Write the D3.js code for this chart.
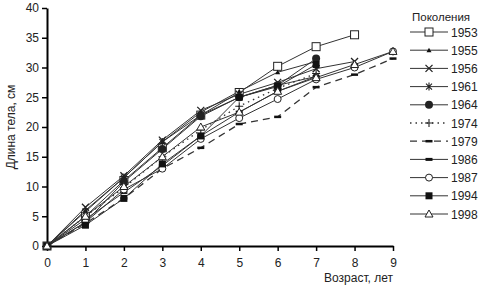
<!DOCTYPE html>
<html>
<head>
<meta charset="utf-8">
<script src="https://cdn.jsdelivr.net/npm/d3@7"></script>
<style>
  body { margin: 0; background: #fff; }
  text { font-family: "Liberation Sans", Arial, sans-serif; fill: #222; }
</style>
</head>
<body>
<div id="chart"></div>
<script>
// ages (x axis) and tick labels
const ages = [0, 1, 2, 3, 4, 5, 6, 7, 8, 9];
const yTicks = [0, 5, 10, 15, 20, 25, 30, 35, 40];

// body length by generation
const gen1953 = [0, 5, 11, 16.5, 22, 25.8, 30.2, 33.5, 35.5];
const gen1955 = [0, 6, 11.5, 17.5, 22.5, 26, 29.2, 31];
const gen1956 = [0, 6.5, 11.8, 17.8, 22.8, 25.5, 27.5, 29.8, 31];
const gen1961 = [0, 5.8, 11.5, 17.5, 22, 25, 27, 28.5];
const gen1964 = [0, 4, 10.8, 16.3, 21.8, 25, 27, 31.5];
const gen1974 = [0, 5, 9.8, 15, 19.5, 23.5, 26.5, 29];
const gen1979 = [0, 3.8, 8, 13, 16.5, 20.5, 21.7, 26.7, 28.8, 31.5];
const gen1986 = [0, 4.5, 9, 13.5, 18.5, 22.5, 26, 28.5];
const gen1987 = [0, 4, 9.5, 13, 18, 21.5, 24.7, 28, 30, 32.7];
const gen1994 = [0, 3.5, 8, 13.8, 18.5, 25, 26.8, 30.5];
const gen1998 = [0, 5, 10, 15, 20, 22.5, 26, 28.3, 30.5, 32.7];

const series = [
  {name: "1953", values: gen1953, marker: "square", dash: null},
  {name: "1955", values: gen1955, marker: "smalltri", dash: null},
  {name: "1956", values: gen1956, marker: "cross", dash: null},
  {name: "1961", values: gen1961, marker: "star", dash: null},
  {name: "1964", values: gen1964, marker: "dot", dash: null},
  {name: "1974", values: gen1974, marker: "plus", dash: "1.5,4"},
  {name: "1979", values: gen1979, marker: "dash", dash: "7,5"},
  {name: "1986", values: gen1986, marker: "bar", dash: null},
  {name: "1987", values: gen1987, marker: "circle", dash: null},
  {name: "1994", values: gen1994, marker: "fsquare", dash: null},
  {name: "1998", values: gen1998, marker: "triangle", dash: null}
];

const margin = {top: 8, right: 90, bottom: 41, left: 47},
    width = 483 - margin.left - margin.right,
    height = 287 - margin.top - margin.bottom;

const svg = d3.select("#chart")
  .append("svg")
  .attr("width", 483)
  .attr("height", 287);

const g = svg.append("g")
  .attr("transform", `translate(${margin.left},${margin.top})`);

const x = d3.scaleLinear().domain([0, 9]).range([0, width]);
const y = d3.scaleLinear().domain([0, 40]).range([height, 0]);

// axes
const xAxis = g.append("g")
  .attr("transform", `translate(0,${height})`)
  .call(d3.axisBottom(x).tickValues(ages).tickFormat(d3.format("d")).tickSize(5).tickSizeOuter(0));
const yAxis = g.append("g")
  .call(d3.axisLeft(y).tickValues(yTicks).tickSize(5).tickSizeOuter(0));

[xAxis, yAxis].forEach(a => {
  a.select(".domain").attr("stroke", "#000").attr("stroke-width", 2);
  a.selectAll(".tick line").attr("stroke", "#000").attr("stroke-width", 1.5);
  a.selectAll("text").style("font-size", "12px").attr("fill", "#222");
});
xAxis.selectAll("text").attr("dy", "1.1em");

// axis titles
g.append("text")
  .attr("x", width)
  .attr("y", height + 36)
  .attr("text-anchor", "end")
  .style("font-size", "12px")
  .text("Возраст, лет");

g.append("text")
  .attr("transform", `translate(-32,${height / 2}) rotate(-90)`)
  .attr("text-anchor", "middle")
  .style("font-size", "12px")
  .text("Длина тела, см");

function drawMarker(sel, type, cx, cy) {
  const m = sel.append("g").attr("transform", `translate(${cx},${cy})`);
  switch (type) {
    case "square":
      m.append("rect").attr("x", -4).attr("y", -4).attr("width", 8).attr("height", 8)
        .attr("fill", "#fff").attr("stroke", "#222").attr("stroke-width", 1);
      break;
    case "fsquare":
      m.append("rect").attr("x", -3.5).attr("y", -3.5).attr("width", 7).attr("height", 7)
        .attr("fill", "#111");
      break;
    case "smalltri":
      m.append("path").attr("d", "M0,-2.5L2.5,2L-2.5,2Z").attr("fill", "#111");
      break;
    case "triangle":
      m.append("path").attr("d", "M0,-4L4,3L-4,3Z").attr("fill", "#fff")
        .attr("stroke", "#222").attr("stroke-width", 1);
      break;
    case "cross":
      m.append("path").attr("d", "M-3.5,-3.5L3.5,3.5M-3.5,3.5L3.5,-3.5")
        .attr("stroke", "#222").attr("stroke-width", 1.3);
      break;
    case "star":
      m.append("path").attr("d", "M-3,-3L3,3M-3,3L3,-3M0,-4L0,4")
        .attr("stroke", "#222").attr("stroke-width", 1.1);
      break;
    case "plus":
      m.append("path").attr("d", "M-4,0L4,0M0,-4L0,4")
        .attr("stroke", "#222").attr("stroke-width", 1.1);
      break;
    case "dot":
      m.append("circle").attr("r", 4).attr("fill", "#222");
      break;
    case "circle":
      m.append("circle").attr("r", 3.5).attr("fill", "#fff")
        .attr("stroke", "#222").attr("stroke-width", 1);
      break;
    case "dash":
      m.append("path").attr("d", "M-3.5,0L3.5,0").attr("stroke", "#111").attr("stroke-width", 2.5);
      break;
    case "bar":
      m.append("path").attr("d", "M-3.5,0L3.5,0").attr("stroke", "#111").attr("stroke-width", 3);
      break;
  }
}

const line = d3.line()
  .x((d, i) => x(ages[i]))
  .y(d => y(d));

// lines
series.forEach(s => {
  g.append("path")
    .datum(s.values)
    .attr("fill", "none")
    .attr("stroke", "#333")
    .attr("stroke-width", s.dash ? 1.3 : 1)
    .attr("stroke-dasharray", s.dash)
    .attr("d", line);
});

// markers (1953 drawn first so later generations cover its early points)
series.forEach(s => {
  s.values.forEach((v, i) => drawMarker(g, s.marker, x(ages[i]), y(v)));
});

// legend
const legend = svg.append("g").attr("transform", "translate(410,0)");
legend.append("text")
  .attr("x", 2).attr("y", 21)
  .style("font-size", "11.5px")
  .text("Поколения");

series.forEach((s, i) => {
  const ly = 32 + i * 18.2;
  legend.append("path")
    .attr("d", `M0,${ly}L38,${ly}`)
    .attr("stroke", "#333")
    .attr("stroke-width", s.dash ? 1.3 : 1)
    .attr("stroke-dasharray", s.dash);
  drawMarker(legend, s.marker, 19, ly);
  legend.append("text")
    .attr("x", 41).attr("y", ly + 4.5)
    .style("font-size", "12px")
    .text(s.name);
});
</script>
</body>
</html>
